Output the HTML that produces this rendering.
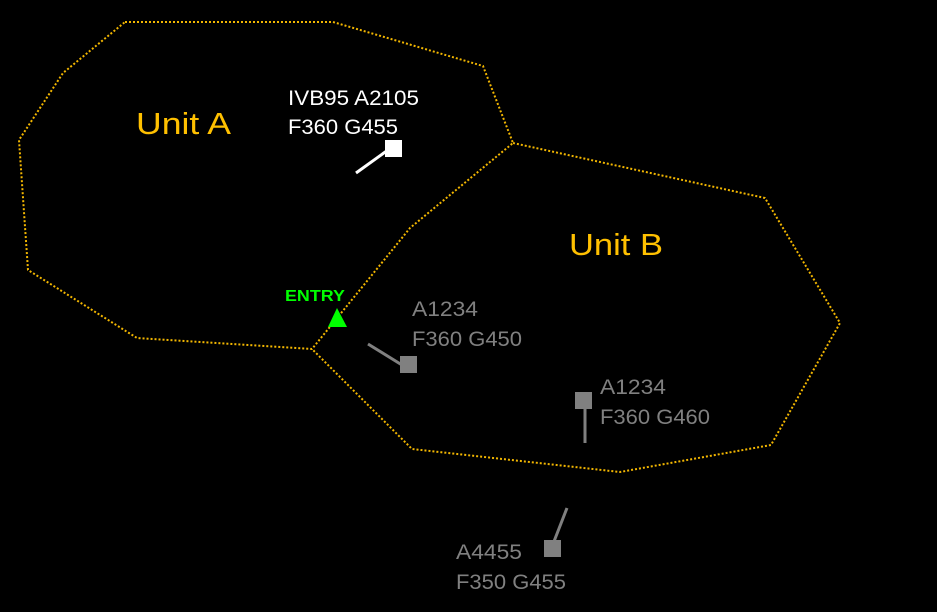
<!DOCTYPE html>
<html><head><style>
html,body{margin:0;padding:0;background:#000;}
svg{display:block}
text{font-family:"Liberation Sans",sans-serif;}
</style></head><body>
<svg width="937" height="612" viewBox="0 0 937 612" xmlns="http://www.w3.org/2000/svg">
<rect width="937" height="612" fill="#000"/>
<g fill="none" stroke="#f2b600" stroke-width="2" stroke-dasharray="2 2">
<polygon points="125,22 333,22 483,66 513,143 410,228 312,349 137,338 28,270 19,140 63,73"/>
<polyline points="513,143 765,198 840,323 771,445 620,472 412,449 312,349"/>
</g>
<text x="136" y="134" fill="#ffc000" font-size="31" textLength="95" lengthAdjust="spacingAndGlyphs">Unit A</text>
<text x="569" y="255" fill="#ffc000" font-size="31" textLength="94" lengthAdjust="spacingAndGlyphs">Unit B</text>
<text x="288" y="105" fill="#fff" font-size="21" textLength="131" lengthAdjust="spacingAndGlyphs">IVB95 A2105</text>
<text x="288" y="134" fill="#fff" font-size="21" textLength="110" lengthAdjust="spacingAndGlyphs">F360 G455</text>
<line x1="356" y1="173" x2="388" y2="150" stroke="#fff" stroke-width="3"/>
<rect x="385" y="140" width="17" height="17" fill="#fff"/>
<text x="285" y="301" fill="#00ff00" font-size="16" font-weight="bold" textLength="60" lengthAdjust="spacingAndGlyphs">ENTRY</text>
<polygon points="337,308 328,327 347,327" fill="#00ff00"/>
<g fill="#808080" font-size="21">
<text x="412" y="316" textLength="66" lengthAdjust="spacingAndGlyphs">A1234</text>
<text x="412" y="346" textLength="110" lengthAdjust="spacingAndGlyphs">F360 G450</text>
<text x="600" y="394" textLength="66" lengthAdjust="spacingAndGlyphs">A1234</text>
<text x="600" y="424" textLength="110" lengthAdjust="spacingAndGlyphs">F360 G460</text>
<text x="456" y="559" textLength="66" lengthAdjust="spacingAndGlyphs">A4455</text>
<text x="456" y="589" textLength="110" lengthAdjust="spacingAndGlyphs">F350 G455</text>
</g>
<g stroke="#808080" stroke-width="3">
<line x1="368" y1="344" x2="402" y2="365"/>
<line x1="585" y1="405" x2="585" y2="443"/>
<line x1="553" y1="544" x2="567" y2="508"/>
</g>
<g fill="#808080">
<rect x="400" y="356" width="17" height="17"/>
<rect x="575" y="392" width="17" height="17"/>
<rect x="544" y="540" width="17" height="17"/>
</g>
</svg>
</body></html>
